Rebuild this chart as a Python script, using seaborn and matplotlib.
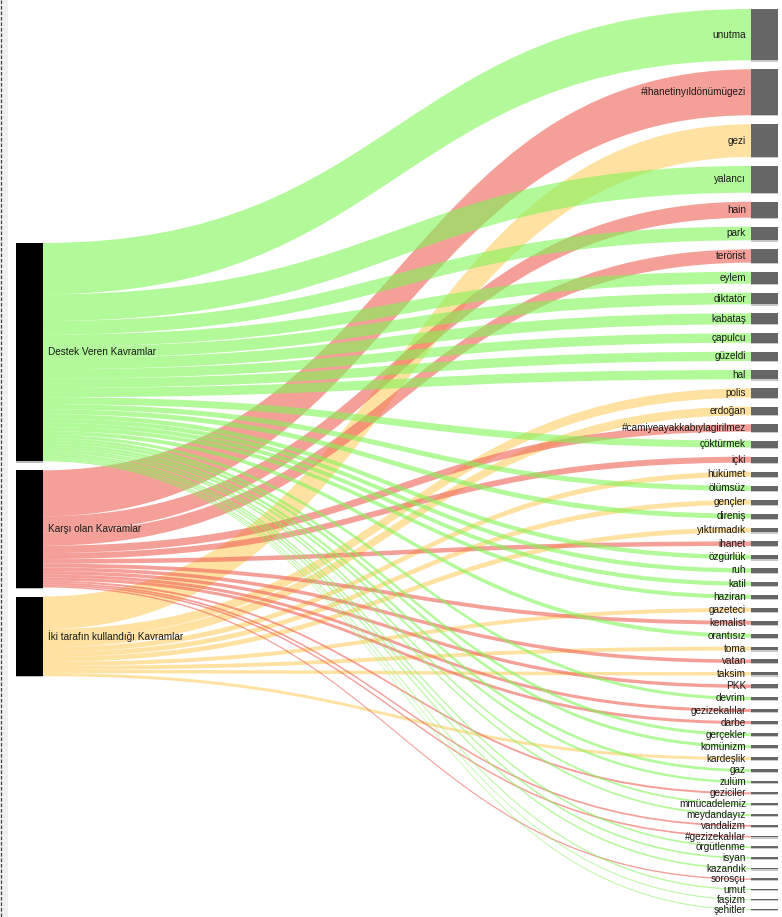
import matplotlib
matplotlib.use("Agg")
import matplotlib.pyplot as plt
import seaborn as sns
from matplotlib.path import Path
from matplotlib.patches import PathPatch, Rectangle

# ---------------- data ----------------
sources = ["Destek Veren Kavramlar", "Karşı olan Kavramlar",
           "İki tarafın kullandığı Kavramlar"]
source_colors = ["#80f556", "#ee6156", "#ffcd62"]

targets = ["unutma", "#ihanetinyıldönümügezi", "gezi", "yalancı", "hain", "park",
           "terörist", "eylem", "diktatör", "kabataş", "çapulcu", "güzeldi", "hal",
           "polis", "erdoğan", "#camiyeayakkabıylagirilmez", "çöktürmek", "içki",
           "hükümet", "ölümsüz", "gençler", "direniş", "yıktırmadık", "ihanet",
           "özgürlük", "ruh", "katil", "haziran", "gazeteci", "kemalist", "orantısız",
           "toma", "vatan", "taksim", "PKK", "devrim", "gezizekalılar", "darbe",
           "gerçekler", "komünizm", "kardeşlik", "gaz", "zulüm", "geziciler",
           "mmücadelemiz", "meydandayız", "vandalizm", "#gezizekalılar", "örgütlenme",
           "isyan", "kazandık", "sorosçu", "umut", "faşizm", "şehitler"]

# source index for every target (0 = Destek, 1 = Karşı, 2 = İki taraf)
target_source = [0, 1, 2, 0, 1, 0,
                 1, 0, 0, 0, 0, 0, 0,
                 2, 2, 1, 0, 1,
                 2, 0, 2, 0, 2, 1,
                 0, 0, 0, 0, 2, 1, 0,
                 2, 1, 2, 1, 0, 1, 1,
                 0, 0, 2, 0, 0, 1,
                 0, 0, 1, 1, 0,
                 0, 0, 1, 0, 0, 0]

values = [51.3, 46.0, 32.7, 26.7, 16.0, 13.6,
          13.4, 12.0, 11.6, 11.0, 9.4, 9.3, 9.3,
          9.3, 8.6, 7.4, 7.0, 6.0,
          5.1, 5.1, 4.9, 4.9, 4.8, 4.5,
          4.4, 4.3, 4.2, 4.0, 4.0, 3.9, 3.9,
          3.9, 3.6, 3.4, 3.4, 3.1, 3.1, 3.0,
          3.0, 3.0, 3.0, 2.8, 2.4, 2.0,
          1.9, 1.8, 1.8, 1.7, 1.7,
          1.7, 1.6, 1.4, 1.3, 1.0, 1.0]

# ---------------- style ----------------
sns.set_theme(style="white")
plt.rcParams["font.family"] = ["Liberation Sans", "DejaVu Sans"]

W, H = 782, 917
fig = plt.figure(figsize=(W / 100, H / 100), dpi=100)
ax = fig.add_axes([0, 0, 1, 1])
ax.set_xlim(0, W)
ax.set_ylim(H, 0)
ax.axis("off")

# left frame decoration
ax.add_patch(Rectangle((0, 0), 7.5, H, facecolor="#f0f0f0", edgecolor="none", zorder=0))
ax.plot([1, 1], [0, H], color="#444444", lw=0.9, dashes=(2.9, 1.5), zorder=1)

# ---------------- layout ----------------
LX0, LX1 = 16, 43
RX0, RX1 = 751, 778
gap = 9
top_r = 9
n = len(targets)
k = 1.0
T = sum(values)
bot_r = top_r + T * k + gap * (n - 1)

# right nodes
r_y = []
y = top_r
for v in values:
    r_y.append(y)
    y += v * k + gap

# left nodes
src_tot = [sum(v for v, s in zip(values, target_source) if s == i) for i in range(len(sources))]
left_total = sum(src_tot) * k + gap * (len(sources) - 1)
center = (top_r + bot_r) / 2
l_y = []
y = center - left_total / 2
for t in src_tot:
    l_y.append(y)
    y += t * k + gap

# ---------------- links ----------------
offset = list(l_y)
xm = (LX1 + RX0) / 2
for i, (v, s) in enumerate(zip(values, target_source)):
    h = v * k
    ys = offset[s]
    offset[s] += h
    yt = r_y[i]
    verts = [(LX1, ys), (xm, ys), (xm, yt), (RX0, yt),
             (RX0, yt + h),
             (xm, yt + h), (xm, ys + h), (LX1, ys + h),
             (LX1, ys)]
    codes = [Path.MOVETO, Path.CURVE4, Path.CURVE4, Path.CURVE4,
             Path.LINETO,
             Path.CURVE4, Path.CURVE4, Path.CURVE4,
             Path.CLOSEPOLY]
    ax.add_patch(PathPatch(Path(verts, codes), facecolor=source_colors[s],
                           edgecolor="none", alpha=0.6, zorder=2))

# ---------------- nodes & labels ----------------
for i, name in enumerate(sources):
    h = src_tot[i] * k
    ax.add_patch(Rectangle((LX0, l_y[i]), LX1 - LX0, h + 1.2, facecolor="#bbbbbb",
                           edgecolor="none", zorder=3))
    ax.add_patch(Rectangle((LX0, l_y[i]), LX1 - LX0, h, facecolor="black",
                           edgecolor="none", zorder=3))
    ax.text(LX1 + 5, l_y[i] + h / 2, name, ha="left", va="center",
            fontsize=7.2, color="#1a1a1a", zorder=4)

for i, name in enumerate(targets):
    h = values[i] * k
    ax.add_patch(Rectangle((RX0, r_y[i]), RX1 - RX0, h + 1.2, facecolor="#c8c8c8",
                           edgecolor="none", zorder=3))
    ax.add_patch(Rectangle((RX0, r_y[i]), RX1 - RX0, max(h, 1.3), facecolor="#666666",
                           edgecolor="none", zorder=3))
    ax.text(RX0 - 5, r_y[i] + h / 2, name, ha="right", va="center",
            fontsize=7.2, color="#1a1a1a", zorder=4)

fig.savefig("out.png", dpi=100, facecolor="white")
